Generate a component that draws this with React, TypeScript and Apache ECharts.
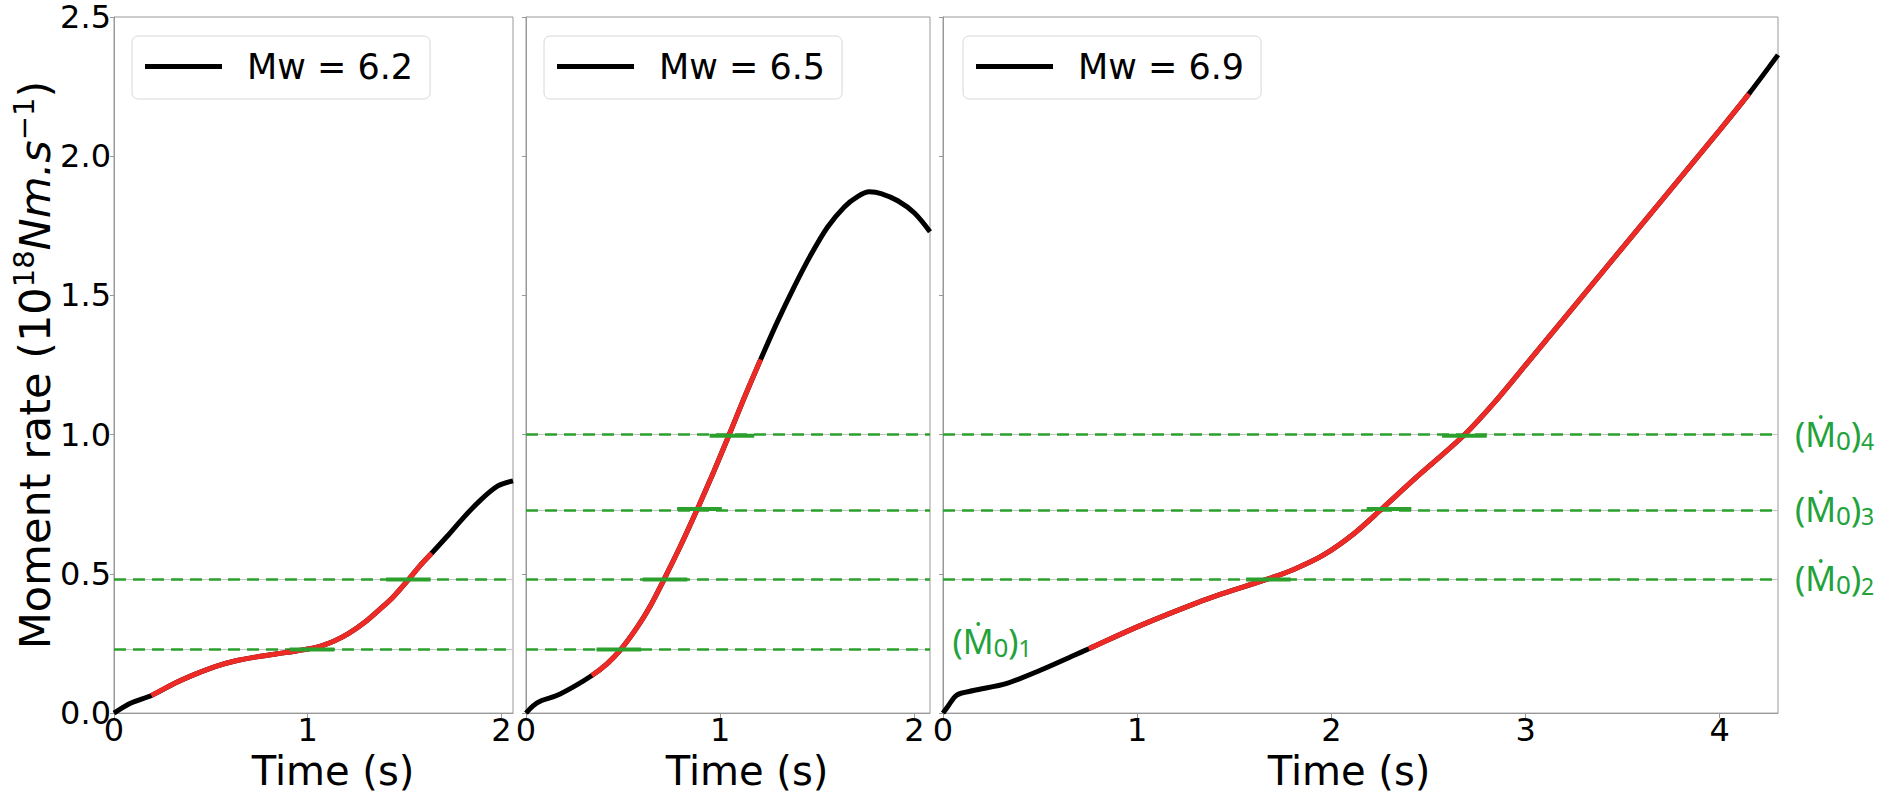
import React, { useEffect, useRef } from 'react';
import * as echarts from 'echarts';

// ---------- data ----------
const panelNames = ['Mw = 6.2', 'Mw = 6.5', 'Mw = 6.9'];
const xMax = [2.06, 2.08, 4.3];

const t1 = [0, 0.088, 0.193, 0.316, 0.42, 0.526, 0.63, 0.737, 0.842, 0.947, 1.053, 1.14, 1.21, 1.298, 1.368, 1.439, 1.526, 1.579, 1.64, 1.72, 1.807, 1.895, 1.982, 2.06];
const v1 = [0, 0.036, 0.063, 0.108, 0.14, 0.168, 0.188, 0.202, 0.213, 0.224, 0.238, 0.26, 0.285, 0.328, 0.37, 0.415, 0.484, 0.529, 0.574, 0.635, 0.704, 0.767, 0.816, 0.834];
const red1 = [2, 18];

const t2 = [0, 0.038, 0.081, 0.158, 0.244, 0.339, 0.417, 0.485, 0.571, 0.64, 0.709, 0.795, 0.89, 0.967, 1.045, 1.122, 1.208, 1.294, 1.38, 1.466, 1.552, 1.639, 1.707, 1.768, 1.828, 1.914, 2.0, 2.08];
const v2 = [0, 0.027, 0.045, 0.063, 0.094, 0.135, 0.177, 0.226, 0.307, 0.385, 0.478, 0.6, 0.745, 0.868, 0.998, 1.13, 1.27, 1.405, 1.53, 1.645, 1.745, 1.818, 1.855, 1.872, 1.866, 1.84, 1.796, 1.729];
const red2 = [5, 16];

const t3 = [0, 0.025, 0.071, 0.157, 0.329, 0.501, 0.673, 0.751, 0.994, 1.244, 1.431, 1.666, 1.806, 1.9625, 2.119, 2.259, 2.43, 2.68, 2.84, 3.0, 3.5, 4.0, 4.15, 4.3];
const v3 = [0, 0.024, 0.065, 0.081, 0.107, 0.154, 0.207, 0.231, 0.308, 0.379, 0.427, 0.48, 0.516, 0.569, 0.646, 0.733, 0.842, 0.996, 1.116, 1.25, 1.672, 2.094, 2.224, 2.364];
const red3 = [7, 22];

// moment-rate thresholds (M0)_1 .. (M0)_4
const levels = [0.228, 0.48, 0.733, 0.996];
const levelIdx1 = [0, 1];
const levelIdx2 = [0, 1, 2, 3];
const levelIdx3 = [1, 2, 3];
// crossing times (centre of short green marks), per level in levelIdx order
const cross1 = [1.022, 1.52];
const cross2 = [0.478, 0.716, 0.893, 1.06];
const cross3 = [1.676, 2.297, 2.685];
const crossHalf = 0.115;
const label1Pos = [0.046, 0.256];

const yTicks = { min: 0, max: 2.5, interval: 0.5 };

// ---------- styles ----------
const FONT = 'DejaVu Sans';
const GREEN = '#2ca02c';
const GREEN_TXT = '#22a23a';
const RED = '#ed2a25';
const AX = '#999999';

const grids = [
  { left: 114, top: 17, width: 399, height: 703 },
  { left: 526, top: 17, width: 404, height: 703 },
  { left: 943, top: 17, width: 835, height: 703 },
];
const xNamePad = [[0, 0, 0, 39], [0, 0, 0, 38], [0, 23, 0, 0]];
const legendLeft = [132, 544, 963];

const annRich = {
  m: { fontFamily: 'Noto Sans', fontSize: 34, lineHeight: 36, verticalAlign: 'top', color: GREEN_TXT },
  z: { fontFamily: 'Noto Sans', fontSize: 26, lineHeight: 10, verticalAlign: 'bottom', color: GREEN_TXT },
  s: { fontFamily: 'Noto Sans', fontSize: 23, lineHeight: 2, verticalAlign: 'bottom', color: GREEN_TXT },
};
const annText = (k: number) => `{m|(\u1E40}{z|0}{m|)}{s|${k}}`;

function buildOption() {
  const ts = [t1, t2, t3];
  const vs = [v1, v2, v3];
  const reds = [red1, red2, red3];
  const lidx = [levelIdx1, levelIdx2, levelIdx3];
  const crosses = [cross1, cross2, cross3];

  const series: any[] = [];
  for (let i = 0; i < 3; i++) {
    const data = ts[i].map((t, j) => [t, vs[i][j]]);
    const mlData: any[] = [];
    lidx[i].forEach((li) => {
      mlData.push({
        yAxis: levels[li],
        lineStyle: { color: '#c4c4c4', width: 1, type: 'solid' },
        label: { show: false },
      });
      mlData.push({
        yAxis: levels[li],
        lineStyle: { color: GREEN, width: 2.5, type: [12, 7] },
        label:
          i === 2
            ? { show: true, position: 'end', distance: 17, formatter: annText(li + 1), rich: annRich }
            : { show: false },
      });
    });
    const black: any = {
      type: 'line',
      name: panelNames[i],
      xAxisIndex: i,
      yAxisIndex: i,
      data,
      showSymbol: false,
      symbol: 'none',
      smooth: 0.3,
      color: '#000',
      lineStyle: { color: '#000', width: 5 },
      itemStyle: { color: '#000' },
      z: 3,
      silent: true,
      markLine: {
        symbol: ['none', 'none'],
        silent: true,
        z: 1,
        label: { show: false },
        emphasis: { disabled: true },
        data: mlData,
      },
    };
    if (i === 2) {
      black.markPoint = {
        symbol: 'circle',
        symbolSize: 1,
        itemStyle: { color: 'rgba(0,0,0,0)' },
        silent: true,
        label: { show: true, position: 'right', distance: 0, formatter: annText(1), rich: annRich },
        data: [{ coord: label1Pos }],
      };
    }
    series.push(black);
    series.push({
      type: 'line',
      name: panelNames[i] + ' (red)',
      xAxisIndex: i,
      yAxisIndex: i,
      data: data.slice(reds[i][0], reds[i][1] + 1),
      showSymbol: false,
      symbol: 'none',
      smooth: 0.3,
      lineStyle: { color: RED, width: 5 },
      itemStyle: { color: RED },
      z: 4,
      silent: true,
    });
    lidx[i].forEach((li, k) => {
      const c = crosses[i][k];
      series.push({
        type: 'line',
        name: 'cross' + i + '_' + k,
        xAxisIndex: i,
        yAxisIndex: i,
        data: [[c - crossHalf, levels[li]], [c + crossHalf, levels[li]]],
        showSymbol: false,
        symbol: 'none',
        lineStyle: { color: GREEN, width: 4 },
        itemStyle: { color: GREEN },
        z: 5,
        silent: true,
      });
    });
  }

  const xAxis = grids.map((_, i) => ({
    type: 'value',
    gridIndex: i,
    min: 0,
    max: xMax[i],
    interval: 1,
    axisLine: { show: true, onZero: false, lineStyle: { color: AX, width: 1 } },
    axisTick: { show: true, length: 5, lineStyle: { color: AX } },
    splitLine: { show: false },
    axisLabel: { fontSize: 32, color: '#000', fontFamily: FONT, margin: 1, showMaxLabel: false },
    name: 'Time (s)',
    nameLocation: 'middle',
    nameGap: 33,
    nameTextStyle: { fontSize: 40, color: '#000', fontFamily: FONT, padding: xNamePad[i] },
  }));

  const yAxis = grids.map((_, i) => {
    const ax: any = {
      type: 'value',
      gridIndex: i,
      min: yTicks.min,
      max: yTicks.max,
      interval: yTicks.interval,
      axisLine: { show: true, lineStyle: { color: AX, width: 1 } },
      axisTick: { show: true, length: 4, lineStyle: { color: AX } },
      splitLine: { show: false },
      axisLabel: {
        show: i === 0,
        fontSize: 32,
        color: '#000',
        fontFamily: FONT,
        margin: 3,
        formatter: (v: number) => v.toFixed(1),
      },
    };
    if (i === 0) {
      ax.name = '{a|Moment rate (10}{b|18}{c|Nm.s}{b|\u22121}{a|)}';
      ax.nameLocation = 'middle';
      ax.nameRotate = 90;
      ax.nameGap = 51;
      ax.nameTextStyle = {
        color: '#000',
        fontFamily: FONT,
        rich: {
          a: { fontSize: 43, lineHeight: 50, fontFamily: FONT, color: '#000' },
          b: { fontSize: 29, lineHeight: 26, verticalAlign: 'top', fontFamily: FONT, color: '#000' },
          c: { fontSize: 43, lineHeight: 50, fontStyle: 'italic', fontFamily: FONT, color: '#000' },
        },
      };
    }
    return ax;
  });

  const legend = panelNames.map((n, i) => ({
    data: [n],
    left: legendLeft[i],
    top: 36,
    orient: 'horizontal',
    icon: 'rect',
    itemWidth: 77,
    itemHeight: 5,
    padding: [13, 17, 15, 13],
    backgroundColor: 'rgba(255,255,255,0.85)',
    borderColor: '#d8d8d8',
    borderWidth: 1,
    borderRadius: 6,
    selectedMode: false,
    itemStyle: { color: '#000', borderWidth: 0 },
    textStyle: { fontSize: 35, color: '#000', fontFamily: FONT, padding: [0, 0, 0, 20], lineHeight: 35 },
    z: 10,
  }));

  return {
    animation: false,
    backgroundColor: '#ffffff',
    textStyle: { fontFamily: FONT },
    grid: grids.map((g) => ({ ...g, show: true, borderColor: AX, borderWidth: 1, backgroundColor: 'transparent' })),
    xAxis,
    yAxis,
    legend,
    series,
  };
}

export default function App() {
  const ref = useRef<HTMLDivElement>(null);
  useEffect(() => {
    if (!ref.current) return;
    const chart = echarts.init(ref.current, undefined, { renderer: 'svg' });
    chart.setOption(buildOption() as any);
    return () => chart.dispose();
  }, []);
  return (
    <div
      ref={ref}
      style={{ position: 'fixed', left: 0, top: 0, width: 1879, height: 796, background: '#fff' }}
    />
  );
}
